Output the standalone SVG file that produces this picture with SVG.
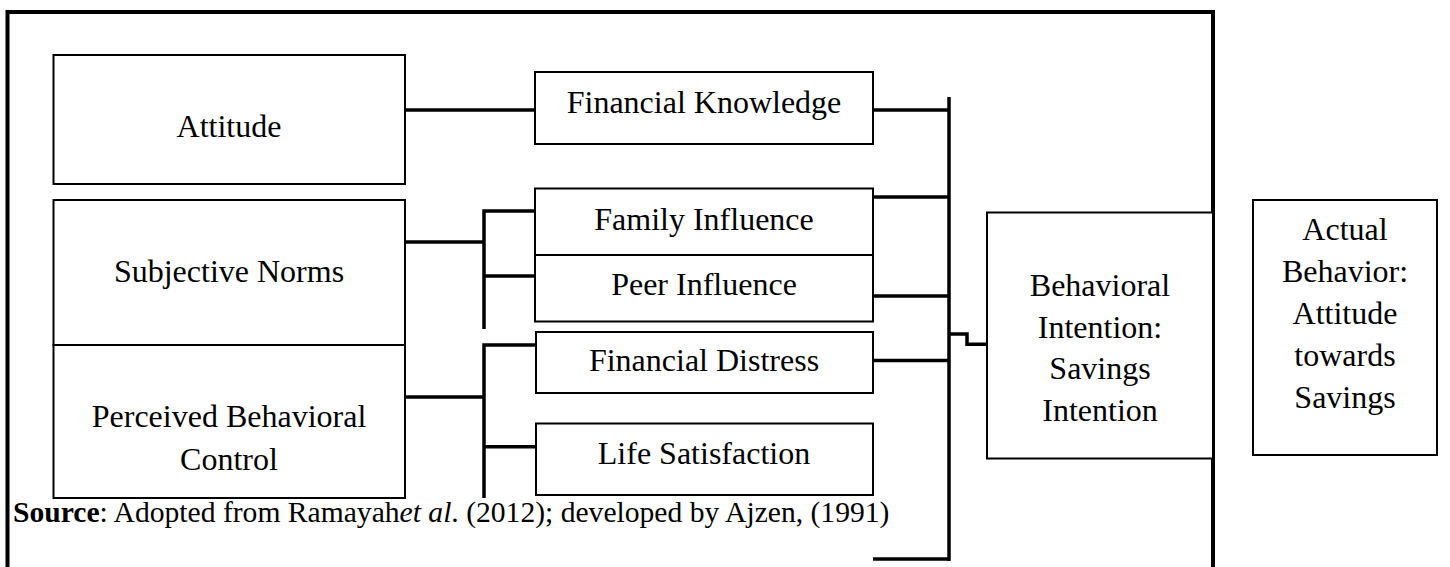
<svg xmlns="http://www.w3.org/2000/svg" width="1450" height="567" viewBox="0 0 1450 567">
<style>
.box{fill:#fff;stroke:#000;stroke-width:2}
.t{font-family:"Liberation Serif","Times New Roman",serif;font-size:32px;fill:#000;text-anchor:middle}
.src{font-family:"Liberation Serif","Times New Roman",serif;font-size:29.6px;fill:#000}
.c{fill:none;stroke:#000;stroke-width:3.5;stroke-linecap:butt;stroke-linejoin:miter}
.frame{fill:none;stroke:#000;stroke-width:4;stroke-linejoin:miter}
</style>
<rect width="1450" height="567" fill="#fff"/>
<path class="frame" d="M7.5,567 V12 H1213 V567"/>
<g id="connectors">
<path class="c" d="M405,110 H535"/>
<path class="c" d="M873,110 H949"/>
<path class="c" d="M949,97 V561"/>
<path class="c" d="M873,197 H949"/>
<path class="c" d="M873,296 H949"/>
<path class="c" d="M873,360.5 H949"/>
<path class="c" d="M873,559 H949"/>
<path class="c" d="M949,334 H967 V344.3 H987"/>
<path class="c" d="M405,242 H484"/>
<path class="c" d="M535,211 H484 V329"/>
<path class="c" d="M484,276 H535"/>
<path class="c" d="M536,345 H484 V498"/>
<path class="c" d="M405,397 H484"/>
<path class="c" d="M484,446.7 H536"/>
</g>
<g id="attitude"><rect class="box" x="53.5" y="55" width="351.5" height="129"/><text class="t" x="229" y="137">Attitude</text></g>
<g id="subjective-norms"><rect class="box" x="53.5" y="200" width="351.5" height="145"/><text class="t" x="229" y="281.5">Subjective Norms</text></g>
<g id="perceived-behavioral-control"><rect class="box" x="53.5" y="345" width="351.5" height="153"/><text class="t" x="229" y="427">Perceived Behavioral</text><text class="t" x="229" y="470">Control</text></g>
<g id="financial-knowledge"><rect class="box" x="535" y="72" width="338" height="72"/><text class="t" x="704" y="112.5">Financial Knowledge</text></g>
<g id="family-influence"><rect class="box" x="535" y="188.5" width="338" height="66.5"/><text class="t" x="704" y="229.5">Family Influence</text></g>
<g id="peer-influence"><rect class="box" x="535" y="255" width="338" height="66.5"/><text class="t" x="704" y="295">Peer Influence</text></g>
<g id="financial-distress"><rect class="box" x="536" y="332" width="337" height="61"/><text class="t" x="704" y="370.5">Financial Distress</text></g>
<g id="life-satisfaction"><rect class="box" x="536" y="423.5" width="337" height="71.5"/><text class="t" x="704" y="464">Life Satisfaction</text></g>
<g id="behavioral-intention"><rect class="box" x="987" y="212.5" width="226" height="246"/><text class="t" x="1100" y="296">Behavioral</text><text class="t" x="1100" y="337.5">Intention:</text><text class="t" x="1100" y="379">Savings</text><text class="t" x="1100" y="420.5">Intention</text></g>
<g id="actual-behavior"><rect class="box" x="1253" y="200" width="184" height="255"/><text class="t" x="1345" y="240">Actual</text><text class="t" x="1345" y="282">Behavior:</text><text class="t" x="1345" y="324">Attitude</text><text class="t" x="1345" y="366">towards</text><text class="t" x="1345" y="408">Savings</text></g>
<g id="source"><text class="src" x="13" y="521.5"><tspan font-weight="bold">Source</tspan>: Adopted from Ramayah<tspan font-style="italic">et al</tspan>. (2012); developed by Ajzen, (1991)</text></g>
</svg>
